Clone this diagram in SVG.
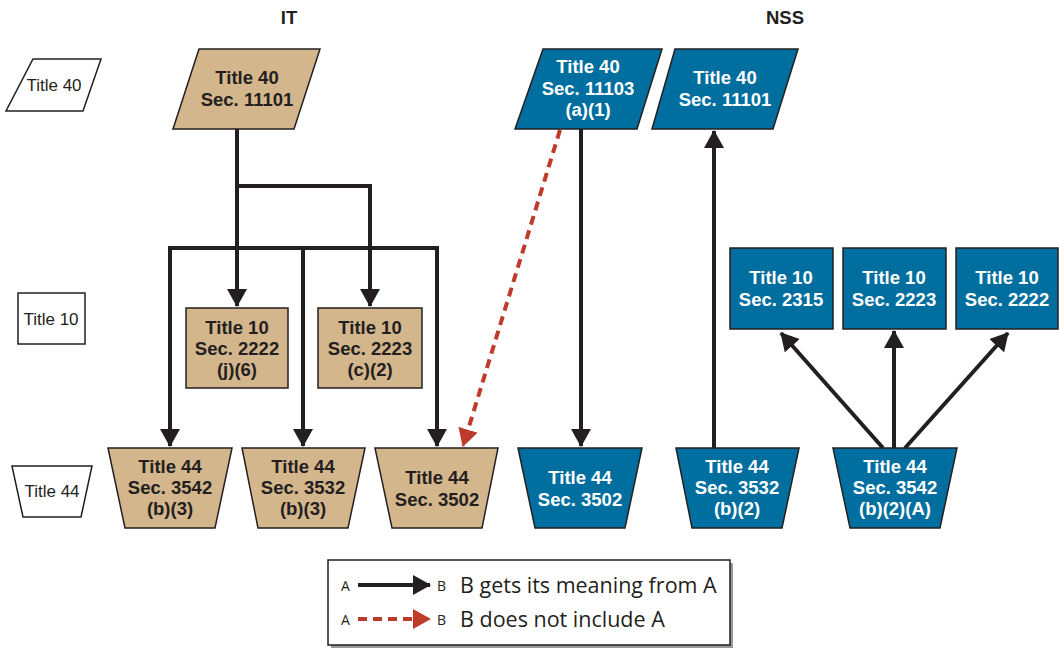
<svg xmlns="http://www.w3.org/2000/svg" width="1059" height="648" viewBox="0 0 1059 648">
<style>
.it{fill:#d4b68c;stroke:#231f20;stroke-width:1.5}
.ns{fill:#006e9e;stroke:#231f20;stroke-width:1.5}
.lb{fill:#fff;stroke:#231f20;stroke-width:1.5}
.tb{font-family:"Liberation Sans",Arial,sans-serif;font-weight:bold;font-size:18.5px;text-anchor:middle;fill:#231f20}
.tw{font-family:"Liberation Sans",Arial,sans-serif;font-weight:bold;font-size:18.5px;text-anchor:middle;fill:#fff}
.tl{font-family:"Liberation Sans",Arial,sans-serif;font-size:17px;text-anchor:middle;fill:#231f20}
.hd{font-family:"Liberation Sans",Arial,sans-serif;font-weight:bold;font-size:18.5px;text-anchor:middle;fill:#231f20}
.lg{font-family:"Open Sans","Liberation Sans",sans-serif;font-size:21.5px;fill:#231f20}
.ls{font-family:"Open Sans","Liberation Sans",sans-serif;font-size:14px;fill:#231f20}
.c{fill:none;stroke:#231f20;stroke-width:4}
.r{fill:none;stroke:#be3a2a;stroke-width:4;stroke-dasharray:9,6}
</style>
<defs>
<marker id="ah" markerUnits="userSpaceOnUse" markerWidth="18" markerHeight="20" refX="17" refY="10" orient="auto"><path d="M0,0 L18,10 L0,20 z" fill="#231f20"/></marker>
<marker id="ahr" markerUnits="userSpaceOnUse" markerWidth="18" markerHeight="20" refX="17" refY="10" orient="auto"><path d="M0,0 L18,10 L0,20 z" fill="#be3a2a"/></marker>
</defs>

<text class="hd" x="289" y="24">IT</text>
<text class="hd" x="785" y="24">NSS</text>

<g id="lbl40"><polygon class="lb" points="33,59 101,59 83,111 6,111"/><text class="tl" x="54" y="91">Title 40</text></g>
<g id="lbl10"><rect class="lb" x="18" y="293" width="67" height="51"/><text class="tl" x="51" y="325">Title 10</text></g>
<g id="lbl44"><polygon class="lb" points="12,466 92,466 81,517 23,517"/><text class="tl" x="52" y="497">Title 44</text></g>

<g id="conn">
<path class="c" d="M237,129 V306" marker-end="url(#ah)"/>
<path class="c" d="M237,186 H370 V306" marker-end="url(#ah)"/>
<path class="c" d="M170,446 V248 H437 V446" marker-end="url(#ah)"/>
<path class="c" d="M170,260 V446" marker-end="url(#ah)"/>
<path class="c" d="M303,248 V446" marker-end="url(#ah)"/>
<path class="r" d="M560,130 L463,446" marker-end="url(#ahr)"/>
<path class="c" d="M581,129 V446" marker-end="url(#ah)"/>
<path class="c" d="M714,448 V131" marker-end="url(#ah)"/>
<path class="c" d="M883,448 L781,333" marker-end="url(#ah)"/>
<path class="c" d="M894,448 V331" marker-end="url(#ah)"/>
<path class="c" d="M905,448 L1008,333" marker-end="url(#ah)"/>
</g>

<g id="it40"><polygon class="it" points="199,49 320,49 294,129 173,129"/><text class="tb" x="247" y="84">Title 40</text><text class="tb" x="247" y="106">Sec. 11101</text></g>
<g id="it10a"><rect class="it" x="186" y="308" width="102" height="80"/><text class="tb" x="237" y="334">Title 10</text><text class="tb" x="237" y="355">Sec. 2222</text><text class="tb" x="237" y="376">(j)(6)</text></g>
<g id="it10b"><rect class="it" x="318" y="308" width="104" height="80"/><text class="tb" x="370" y="334">Title 10</text><text class="tb" x="370" y="355">Sec. 2223</text><text class="tb" x="370" y="376">(c)(2)</text></g>
<g id="it44a"><polygon class="it" points="108,448 232,448 215,528 125,528"/><text class="tb" x="170" y="473">Title 44</text><text class="tb" x="170" y="494">Sec. 3542</text><text class="tb" x="170" y="515">(b)(3)</text></g>
<g id="it44b"><polygon class="it" points="242,448 365,448 348,528 258,528"/><text class="tb" x="303" y="473">Title 44</text><text class="tb" x="303" y="494">Sec. 3532</text><text class="tb" x="303" y="515">(b)(3)</text></g>
<g id="it44c"><polygon class="it" points="375,448 498,448 482,528 392,528"/><text class="tb" x="437" y="484">Title 44</text><text class="tb" x="437" y="506">Sec. 3502</text></g>

<g id="ns40a"><polygon class="ns" points="543,49 662,49 637,129 515,129"/><text class="tw" x="588" y="73">Title 40</text><text class="tw" x="588" y="95">Sec. 11103</text><text class="tw" x="588" y="116">(a)(1)</text></g>
<g id="ns40b"><polygon class="ns" points="675,49 798,49 773,129 652,129"/><text class="tw" x="725" y="84">Title 40</text><text class="tw" x="725" y="106">Sec. 11101</text></g>
<g id="ns10a"><rect class="ns" x="730" y="248" width="103" height="81"/><text class="tw" x="781" y="284">Title 10</text><text class="tw" x="781" y="306">Sec. 2315</text></g>
<g id="ns10b"><rect class="ns" x="843" y="248" width="103" height="81"/><text class="tw" x="894" y="284">Title 10</text><text class="tw" x="894" y="306">Sec. 2223</text></g>
<g id="ns10c"><rect class="ns" x="956" y="248" width="102" height="81"/><text class="tw" x="1007" y="284">Title 10</text><text class="tw" x="1007" y="306">Sec. 2222</text></g>
<g id="ns44a"><polygon class="ns" points="518,448 642,448 625,528 535,528"/><text class="tw" x="580" y="484">Title 44</text><text class="tw" x="580" y="506">Sec. 3502</text></g>
<g id="ns44b"><polygon class="ns" points="676,448 799,448 782,528 692,528"/><text class="tw" x="737" y="473">Title 44</text><text class="tw" x="737" y="494">Sec. 3532</text><text class="tw" x="737" y="515">(b)(2)</text></g>
<g id="ns44c"><polygon class="ns" points="833,448 957,448 940,528 850,528"/><text class="tw" x="895" y="473">Title 44</text><text class="tw" x="895" y="494">Sec. 3542</text><text class="tw" x="895" y="515">(b)(2)(A)</text></g>

<g id="legend">
<rect x="331" y="563" width="402" height="85" fill="#9a9a9a"/>
<rect x="328" y="560" width="402" height="85" fill="#fff" stroke="#231f20" stroke-width="1.5"/>
<text class="ls" x="341" y="591">A</text>
<path class="c" d="M358,585 H430" marker-end="url(#ah)"/>
<text class="ls" x="437" y="591">B</text>
<text class="lg" x="460" y="593">B gets its meaning from A</text>
<text class="ls" x="341" y="625">A</text>
<path class="r" d="M358,619 H430" stroke-dasharray="8,5" marker-end="url(#ahr)"/>
<text class="ls" x="437" y="625">B</text>
<text class="lg" x="460" y="627">B does not include A</text>
</g>
</svg>
